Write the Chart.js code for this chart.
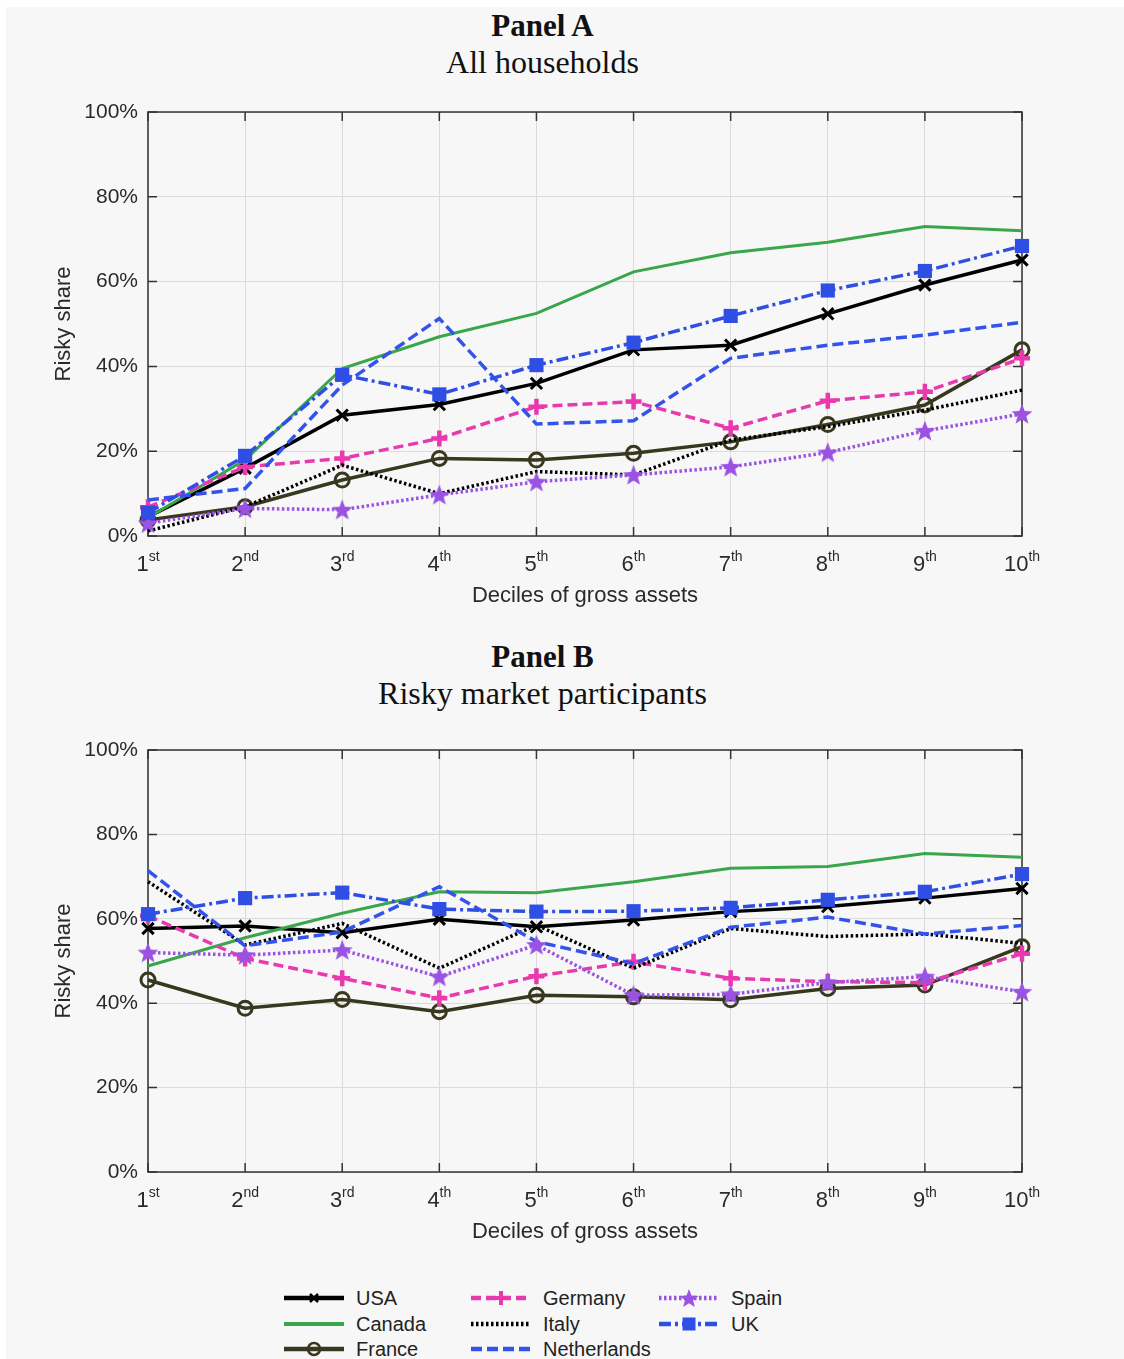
<!DOCTYPE html>
<html>
<head>
<meta charset="utf-8">
<title>Risky share by decile of gross assets</title>
<script src="https://cdn.jsdelivr.net/npm/chart.js@4.4.1/dist/chart.umd.min.js"></script>
<style>
    body { margin: 0; background: #ffffff; width: 1124px; height: 1359px; position: relative; overflow: hidden; }
    #page { position: absolute; left: 6px; top: 7px; right: 0; bottom: 0; background: #f7f7f7; }
    .title { position: absolute; left: 0; width: 1085px; text-align: center; color: #111;
             font-family: "Liberation Serif", "Times New Roman", serif; font-size: 32px; line-height: 32px; }
    .title.bold { font-weight: bold; font-size: 31px; }
    .chartBox { position: absolute; left: 0; width: 1060px; }
    .legItem { position: absolute; height: 24px; display: flex; align-items: center;
               font-family: "Liberation Sans", Arial, sans-serif; font-size: 20px; color: #222; }
    .legItem svg { margin-right: 12px; }
</style>
</head>
<body>
<div id="page"></div>

<div class="title bold" style="top:10px">Panel A</div>
<div class="title" style="top:46px">All households</div>
<div class="chartBox" style="top:95px;height:530px"><canvas id="chartA"></canvas></div>

<div class="title bold" style="top:641px">Panel B</div>
<div class="title" style="top:677px">Risky market participants</div>
<div class="chartBox" style="top:733px;height:528px"><canvas id="chartB"></canvas></div>

<div id="legend"></div>

<script>
// 分位数和刻度
const deciles = ['1st', '2nd', '3rd', '4th', '5th', '6th', '7th', '8th', '9th', '10th'];
const yTicks = [0, 20, 40, 60, 80, 100];
const countries = ['USA', 'Canada', 'France', 'Germany', 'Italy', 'Netherlands', 'Spain', 'UK'];

// Panel A: 所有家庭 (%)
const allUSA         = [4.5, 16.0, 28.5, 31.0, 36.0, 43.9, 45.0, 52.4, 59.2, 65.1];
const allCanada      = [4.3, 18.0, 39.5, 47.0, 52.5, 62.3, 66.8, 69.3, 73.0, 72.0];
const allFrance      = [3.8, 6.9, 13.2, 18.3, 17.9, 19.5, 22.2, 26.3, 30.9, 43.9];
const allGermany     = [6.8, 16.3, 18.3, 23.0, 30.5, 31.7, 25.4, 31.9, 34.0, 41.9];
const allItaly       = [1.2, 6.9, 16.7, 10.0, 15.2, 14.4, 22.6, 25.8, 29.7, 34.4];
const allNetherlands = [8.5, 11.2, 35.6, 51.3, 26.4, 27.2, 41.9, 45.0, 47.4, 50.4];
const allSpain       = [3.0, 6.5, 6.2, 9.7, 12.8, 14.4, 16.3, 19.7, 24.8, 28.8];
const allUK          = [5.5, 18.9, 38.0, 33.4, 40.3, 45.6, 51.9, 57.9, 62.5, 68.4];

// Panel B: 风险市场参与者 (%)
const partUSA         = [57.7, 58.3, 56.7, 59.9, 58.1, 59.7, 61.7, 62.9, 64.9, 67.2];
const partCanada      = [48.8, 55.5, 61.3, 66.4, 66.2, 68.8, 72.0, 72.4, 75.5, 74.6];
const partFrance      = [45.5, 38.8, 40.9, 38.0, 41.9, 41.5, 40.8, 43.5, 44.3, 53.4];
const partGermany     = [60.7, 50.6, 45.9, 41.2, 46.4, 49.8, 45.9, 45.1, 44.9, 51.7];
const partItaly       = [68.8, 53.8, 58.9, 48.3, 58.5, 48.3, 57.7, 55.8, 56.4, 54.2];
const partNetherlands = [71.4, 53.6, 56.9, 67.6, 54.6, 49.4, 58.0, 60.4, 56.4, 58.4];
const partSpain       = [52.0, 51.4, 52.6, 46.3, 53.8, 41.9, 42.1, 44.9, 46.3, 42.7];
const partUK          = [61.1, 64.9, 66.2, 62.3, 61.7, 61.8, 62.6, 64.5, 66.4, 70.6];

const panelAData = [allUSA, allCanada, allFrance, allGermany, allItaly, allNetherlands, allSpain, allUK];
const panelBData = [partUSA, partCanada, partFrance, partGermany, partItaly, partNetherlands, partSpain, partUK];

const SANS = '"Liberation Sans", Arial, sans-serif';
const TEXT = '#2a2a2a';

// 五角星标记
function makeStar(color, r) {
    const s = Math.ceil(r * 2 + 2);
    const c = document.createElement('canvas');
    c.width = s; c.height = s;
    const g = c.getContext('2d');
    g.fillStyle = color;
    g.beginPath();
    for (let i = 0; i < 10; i++) {
        const rad = i % 2 ? r * 0.42 : r;
        const a = -Math.PI / 2 + i * Math.PI / 5;
        g.lineTo(s / 2 + rad * Math.cos(a), s / 2 + rad * Math.sin(a) + 0.8);
    }
    g.closePath();
    g.fill();
    return c;
}

// 线型
const styles = {
    USA:         { color: '#000000', width: 3.5, dash: [],            point: 'crossRot', radius: 8, pw: 3 },
    Canada:      { color: '#3aa64a', width: 3,   dash: [],            point: false },
    France:      { color: '#38381f', width: 3.5, dash: [],            point: 'circle', radius: 7, pw: 3 },
    Germany:     { color: '#e83aae', width: 3.5, dash: [10, 5],       point: 'cross', radius: 8, pw: 4.5 },
    Italy:       { color: '#000000', width: 3.5, dash: [2.5, 2.5],    point: false },
    Netherlands: { color: '#3453ea', width: 3.5, dash: [11, 5],       point: false },
    Spain:       { color: '#9a52e2', width: 3.5, dash: [2.5, 2.5],    point: 'star', radius: 11 },
    UK:          { color: '#2f4fe4', width: 3.5, dash: [12, 4, 3, 4], point: 'rect', radius: 10, pw: 0 }
};

function buildDatasets(series) {
    return countries.map((name, i) => {
        const st = styles[name];
        const ds = {
            label: name,
            data: series[i],
            borderColor: st.color,
            borderWidth: st.width,
            borderDash: st.dash,
            tension: 0,
            fill: false,
            clip: false,
            order: countries.length - i
        };
        if (!st.point) {
            ds.pointRadius = 0;
        } else if (st.point === 'star') {
            ds.pointStyle = makeStar(st.color, st.radius);
            ds.pointRadius = st.radius;
        } else {
            ds.pointStyle = st.point;
            ds.pointRadius = st.radius;
            ds.pointBorderWidth = st.pw;
            ds.pointBorderColor = st.color;
            ds.pointBackgroundColor = st.point === 'rect' ? st.color : 'rgba(0,0,0,0)';
        }
        return ds;
    });
}

// 坐标框、内向刻度、上标刻度标签和轴标题
const boxPlugin = {
    id: 'box',
    beforeDatasetsDraw(chart) {
        const { ctx, chartArea: a, scales: { x, y } } = chart;
        ctx.save();
        ctx.strokeStyle = '#333333';
        ctx.lineWidth = 1.5;
        ctx.strokeRect(a.left, a.top, a.width, a.height);
        ctx.beginPath();
        x.ticks.forEach((t, i) => {
            const px = x.getPixelForTick(i);
            ctx.moveTo(px, a.bottom); ctx.lineTo(px, a.bottom - 9);
            ctx.moveTo(px, a.top); ctx.lineTo(px, a.top + 9);
        });
        y.ticks.forEach((t, i) => {
            const py = y.getPixelForTick(i);
            ctx.moveTo(a.left, py); ctx.lineTo(a.left + 9, py);
            ctx.moveTo(a.right, py); ctx.lineTo(a.right - 9, py);
        });
        ctx.stroke();
        ctx.restore();
    },
    afterDraw(chart) {
        const { ctx, chartArea: a, scales: { x } } = chart;
        ctx.save();
        ctx.fillStyle = TEXT;
        ctx.textBaseline = 'alphabetic';
        ctx.textAlign = 'left';
        deciles.forEach((lab, i) => {
            const m = lab.match(/^(\d+)(\D*)$/);
            ctx.font = '22px ' + SANS;
            const w1 = ctx.measureText(m[1]).width;
            ctx.font = '14px ' + SANS;
            const w2 = ctx.measureText(m[2]).width;
            const x0 = x.getPixelForTick(i) - (w1 + w2) / 2;
            ctx.font = '22px ' + SANS;
            ctx.fillText(m[1], x0, a.bottom + 35);
            ctx.font = '14px ' + SANS;
            ctx.fillText(m[2], x0 + w1, a.bottom + 25);
        });
        ctx.font = '22px ' + SANS;
        ctx.textAlign = 'center';
        ctx.fillText('Deciles of gross assets', (a.left + a.right) / 2, a.bottom + 66);
        ctx.translate(64, (a.top + a.bottom) / 2);
        ctx.rotate(-Math.PI / 2);
        ctx.textBaseline = 'middle';
        ctx.fillText('Risky share', 0, 0);
        ctx.restore();
    }
};

function makeChart(id, series) {
    const ctx = document.getElementById(id).getContext('2d');
    return new Chart(ctx, {
        type: 'line',
        data: { labels: deciles, datasets: buildDatasets(series) },
        plugins: [boxPlugin],
        options: {
            responsive: true,
            maintainAspectRatio: false,
            animation: false,
            layout: { padding: { top: 17, right: 38, left: 0, bottom: 0 } },
            plugins: { legend: { display: false }, tooltip: { enabled: false } },
            scales: {
                x: {
                    type: 'category',
                    offset: false,
                    grid: { color: '#dadada', lineWidth: 1, drawTicks: false },
                    border: { display: false },
                    ticks: { display: false },
                    afterFit: s => { s.height = 89; s.paddingLeft = 0; s.paddingRight = 0; }
                },
                y: {
                    min: yTicks[0],
                    max: yTicks[yTicks.length - 1],
                    afterBuildTicks: s => { s.ticks = yTicks.map(v => ({ value: v })); },
                    grid: { color: '#dadada', lineWidth: 1, drawTicks: false },
                    border: { display: false },
                    ticks: {
                        padding: 10,
                        color: TEXT,
                        font: { family: SANS, size: 21 },
                        callback: v => v + '%'
                    },
                    afterFit: s => { s.width = 148; s.paddingTop = 0; s.paddingBottom = 0; }
                }
            }
        }
    });
}

makeChart('chartA', panelAData);
makeChart('chartB', panelBData);

// 图例
function legendSvg(name) {
    const st = styles[name];
    const w = 60, h = 24, cy = 12, cx = 30;
    let svg = `<svg width="${w}" height="${h}" xmlns="http://www.w3.org/2000/svg">`;
    svg += `<line x1="0" y1="${cy}" x2="${w}" y2="${cy}" stroke="${st.color}" stroke-width="${st.width + 1}"` +
           (st.dash.length ? ` stroke-dasharray="${st.dash.join(',')}"` : '') + '/>';
    if (st.point === 'crossRot') {
        svg += `<path d="M${cx - 4} ${cy - 4}L${cx + 4} ${cy + 4}M${cx + 4} ${cy - 4}L${cx - 4} ${cy + 4}" stroke="${st.color}" stroke-width="2.5"/>`;
    } else if (st.point === 'circle') {
        svg += `<circle cx="${cx}" cy="${cy}" r="6" fill="none" stroke="${st.color}" stroke-width="2.5"/>`;
    } else if (st.point === 'cross') {
        svg += `<path d="M${cx - 7} ${cy}L${cx + 7} ${cy}M${cx} ${cy - 7}L${cx} ${cy + 7}" stroke="${st.color}" stroke-width="4"/>`;
    } else if (st.point === 'rect') {
        svg += `<rect x="${cx - 6.5}" y="${cy - 6.5}" width="13" height="13" fill="${st.color}"/>`;
    } else if (st.point === 'star') {
        let pts = [];
        for (let i = 0; i < 10; i++) {
            const r = i % 2 ? 4.2 : 10;
            const a = -Math.PI / 2 + i * Math.PI / 5;
            pts.push((cx + r * Math.cos(a)).toFixed(1) + ',' + (cy + 1 + r * Math.sin(a)).toFixed(1));
        }
        svg += `<polygon points="${pts.join(' ')}" fill="${st.color}"/>`;
    }
    return svg + '</svg>';
}

const legendCols = [284, 471, 659];
const legendRows = [1286, 1312, 1337];
const legend = document.getElementById('legend');
countries.forEach((name, i) => {
    const col = Math.floor(i / 3), row = i % 3;
    const item = document.createElement('div');
    item.className = 'legItem';
    item.style.left = legendCols[col] + 'px';
    item.style.top = legendRows[row] + 'px';
    item.innerHTML = legendSvg(name) + '<span>' + name + '</span>';
    legend.appendChild(item);
});
</script>
</body>
</html>
